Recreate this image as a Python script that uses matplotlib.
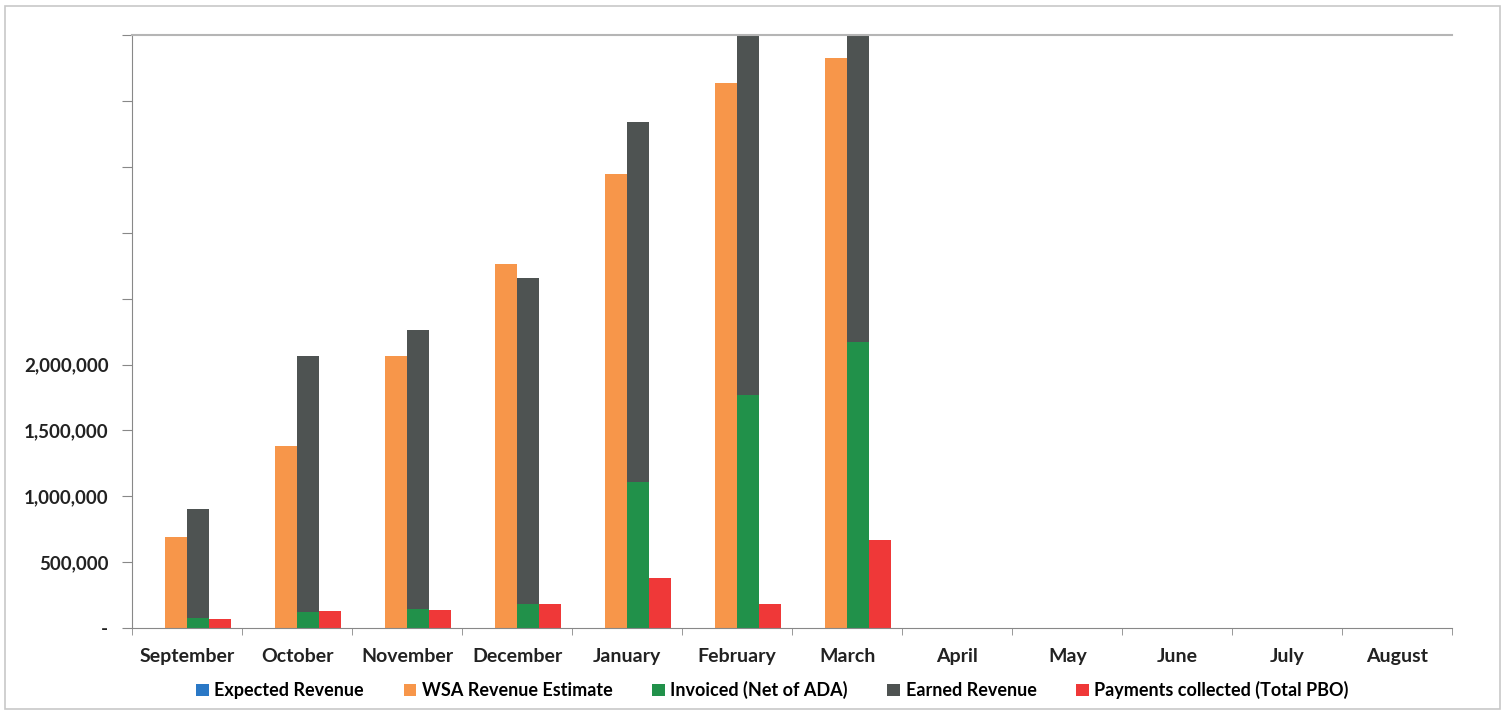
import numpy as np
import matplotlib.pyplot as plt
from matplotlib.patches import Rectangle

# months and series values
months = ['September', 'October', 'November', 'December', 'January', 'February',
          'March', 'April', 'May', 'June', 'July', 'August']
expected = [0, 0, 0, 0, 0, 0, 0, 0, 0, 0, 0, 0]
wsa = [690000, 1380000, 2068000, 2765000, 3447000, 4136000, 4326000, 0, 0, 0, 0, 0]
invoiced = [75000, 120000, 145000, 182000, 1106000, 1765000, 2174000, 0, 0, 0, 0, 0]
earned = [901000, 2068000, 2258000, 2659000, 3841000, 4900000, 5400000, 0, 0, 0, 0, 0]
payments = [68000, 128000, 136000, 182000, 379000, 182000, 667000, 0, 0, 0, 0, 0]

series_names = ['Expected Revenue', 'WSA Revenue Estimate', 'Invoiced (Net of ADA)',
                'Earned Revenue', 'Payments collected (Total PBO)']
colors = ['#2a78c6', '#f7964a', '#21914a', '#4e5352', '#ef3838']

yticks = np.arange(0, 4500001, 500000)
ylabels = ['-', '500,000', '1,000,000', '1,500,000', '2,000,000', '', '', '', '', '']

plt.rcParams['font.family'] = ['Lato', 'DejaVu Sans']

fig = plt.figure(figsize=(15.09, 7.13), dpi=100)
ax = fig.add_axes([0.0875, 0.119, 0.875, 0.832])

x = np.arange(len(months))
w = 0.2
ax.bar(x - 0.3, expected, w, color=colors[0], label=series_names[0])
ax.bar(x - 0.1, wsa, w, color=colors[1], label=series_names[1])
ax.bar(x + 0.1, earned, w, color=colors[3], label=series_names[3])
ax.bar(x + 0.1, invoiced, w, color=colors[2], label=series_names[2])
ax.bar(x + 0.3, payments, w, color=colors[4], label=series_names[4])

ax.set_xlim(-0.5, len(months) - 0.5)
ax.set_ylim(0, 4500000)
ax.set_yticks(yticks)
ax.set_yticklabels(ylabels, fontsize=13.5, fontweight='bold', color='#222222')

ax.set_xticks(x)
ax.set_xticklabels(months, fontsize=14, fontweight='bold', color='#222222')
ax.tick_params(axis='x', which='major', length=0, pad=14)
ax.set_xticks(np.arange(-0.5, len(months)), minor=True)
ax.tick_params(axis='x', which='minor', length=5, color='#888888', direction='out')
ax.tick_params(axis='y', length=7, color='#888888', direction='out', pad=10)

for s in ['left', 'bottom']:
    ax.spines[s].set_color('#888888')
ax.spines['top'].set_color('#b5b5b5')
ax.spines['top'].set_linewidth(1.5)
ax.spines['right'].set_visible(False)

handles, labels = ax.get_legend_handles_labels()
order = [labels.index(n) for n in series_names]
ax.legend([handles[i] for i in order], [labels[i] for i in order],
          loc='upper center', bbox_to_anchor=(0.485, -0.062), ncol=5,
          frameon=False, handlelength=0.7, handleheight=0.7, handletextpad=0.3,
          columnspacing=2.2, prop={'weight': 'bold', 'size': 13})

# light frame round the whole chart
fig.patches.append(Rectangle((0.003, 0.006), 0.991, 0.986, transform=fig.transFigure,
                             fill=False, edgecolor='#c8c8c8', linewidth=1.2))

fig.savefig('out.png', dpi=100)
